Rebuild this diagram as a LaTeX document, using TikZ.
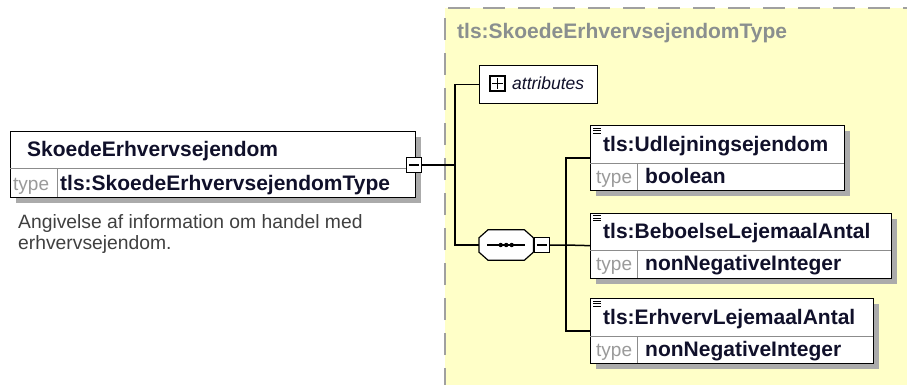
\documentclass[tikz,border=0pt]{standalone}
\usepackage{fontspec}
\setmainfont{Liberation Sans}
\usetikzlibrary{calc}
\definecolor{bgyellow}{HTML}{FFFFC8}
\definecolor{shadowc}{HTML}{ABABAB}
\definecolor{dashc}{HTML}{A0A0A0}
\definecolor{titlec}{HTML}{8A8F8F}
\definecolor{typec}{HTML}{9A9A9A}
\definecolor{divc}{HTML}{8C8C8C}
\definecolor{descc}{HTML}{404040}
\definecolor{textc}{HTML}{10102A}
\tikzset{
  elbox/.style={draw=black, line width=1.3pt, fill=white, inner sep=0pt, anchor=north west},
  shadowbox/.style={fill=shadowc, draw=none},
  divline/.style={draw=divc, line width=0.9pt},
  conn/.style={draw=black, line width=1.5pt},
  nametext/.style={inner sep=0pt, anchor=base west, text=textc, font=\fontsize{21}{25}\selectfont\bfseries},
  typelbl/.style={inner sep=0pt, anchor=base west, text=typec, font=\fontsize{19}{23}\selectfont},
  titletext/.style={inner sep=0pt, anchor=base west, text=titlec, font=\fontsize{21}{25}\selectfont\bfseries},
  desctext/.style={inner sep=0pt, anchor=base west, text=descc, font=\fontsize{19.3}{23}\selectfont},
  pmbox/.style={draw=black, line width=1.1pt, fill=white, minimum size=15pt, inner sep=0pt},
  icon/.style={draw=black, line width=0.8pt},
}
\begin{document}
\begin{tikzpicture}[x=1pt,y=-1pt]
\useasboundingbox (0,0) rectangle (907,385);
\fill[white] (0,0) rectangle (907,385);
% yellow type region
\fill[bgyellow] (445,8) rectangle (912,390);
\draw[dashc, line width=1.5pt, dash pattern=on 22pt off 13pt] (445,390) -- (445,8) -- (912,8);
\node[titletext] (title) at (457,39) {tls:SkoedeErhvervsejendomType};

% main element
\fill[shadowbox] (16,137) rectangle (421,203);
\node[elbox, minimum width=405pt, minimum height=66pt] (main) at (10,131) {};
\draw[divline] (10,168) -- (415,168);
\draw[divline] (57,168) -- (57,197);
\node[nametext] (mainname) at (27,157) {SkoedeErhvervsejendom};
\node[typelbl] (maintypel) at (13,190) {type};
\node[nametext] (maintype) at (60,190) {tls:SkoedeErhvervsejendomType};
\node[pmbox] (mainminus) at (414,165) {};
\draw[line width=1.1pt] ([xshift=3pt]mainminus.west) -- ([xshift=-3pt]mainminus.east);
\node[desctext] (desc1) at (18,228) {Angivelse af information om handel med};
\node[desctext] (desc2) at (18,249) {erhvervsejendom.};

% attributes
\node[elbox, minimum width=118pt, minimum height=38pt] (attr) at (479,65) {};
\node[pmbox] (attrplus) at (497.5,83.5) {};
\draw[line width=1.1pt] ([xshift=3pt]attrplus.west) -- ([xshift=-3pt]attrplus.east);
\draw[line width=1.1pt] ([yshift=-3pt]attrplus.north) -- ([yshift=3pt]attrplus.south);
\node[inner sep=0pt, anchor=base west, text=textc, font=\fontsize{17.5}{21}\selectfont\itshape] (attrtext) at (512,90) {attributes};

% sequence compositor
\node[inner sep=0pt, minimum width=54pt, minimum height=30pt, anchor=west] (seq) at (479,245) {};
\begin{scope}[shift={(6,6)}]
\fill[shadowc] ([xshift=9pt]seq.north west) -- ([xshift=-9pt]seq.north east) -- ([yshift=-8pt]seq.north east) -- ([yshift=8pt]seq.south east) -- ([xshift=-9pt]seq.south east) -- ([xshift=9pt]seq.south west) -- ([yshift=8pt]seq.south west) -- ([yshift=-8pt]seq.north west) -- cycle;
\end{scope}
\draw[line width=1.2pt, fill=white] ([xshift=9pt]seq.north west) -- ([xshift=-9pt]seq.north east) -- ([yshift=-8pt]seq.north east) -- ([yshift=8pt]seq.south east) -- ([xshift=-9pt]seq.south east) -- ([xshift=9pt]seq.south west) -- ([yshift=8pt]seq.south west) -- ([yshift=-8pt]seq.north west) -- cycle;
\draw[line width=1.2pt] ([xshift=8pt]seq.west) -- ([xshift=-8pt]seq.east);
\foreach \dx in {-5.5,0,5.5} \fill ([xshift=\dx pt]seq.center) circle (2.2pt);
\node[pmbox] (seqminus) at (542,245) {};
\draw[line width=1.1pt] ([xshift=3pt]seqminus.west) -- ([xshift=-3pt]seqminus.east);

% child elements
\foreach \nm/\yy/\ww/\title/\typ in {c1/125/254/tls:Udlejningsejendom/boolean, c2/212.5/301/tls:BeboelseLejemaalAntal/nonNegativeInteger, c3/298/283/tls:ErhvervLejemaalAntal/nonNegativeInteger}{
  \fill[shadowbox] (596,\yy+6) rectangle (590+\ww+6,\yy+71);
  \node[elbox, minimum width=\ww pt, minimum height=65pt] (\nm) at (590,\yy) {};
  \draw[divline] (590,\yy+38) -- (590+\ww,\yy+38);
  \draw[divline] (637,\yy+38) -- (637,\yy+65);
  \foreach \ly in {3,5.5,8} \draw[icon] (593,\yy+\ly) -- (601,\yy+\ly);
  \node[nametext] (\nm name) at (603,\yy+26) {\title};
  \node[typelbl] (\nm typel) at (596,\yy+58) {type};
  \node[nametext] (\nm type) at (645,\yy+58) {\typ};
}

% connectors
\coordinate (trunk) at (455,165);
\coordinate (trunk2) at (566,245);
\draw[conn] (mainminus.east) -- (trunk);
\draw[conn] (attr.west) -| (trunk) |- (seq.west);
\draw[conn] (seqminus.east) -- (trunk2) -- (c2.west);
\draw[conn] (c1.west) -| (trunk2) |- (c3.west);
\end{tikzpicture}
\end{document}
